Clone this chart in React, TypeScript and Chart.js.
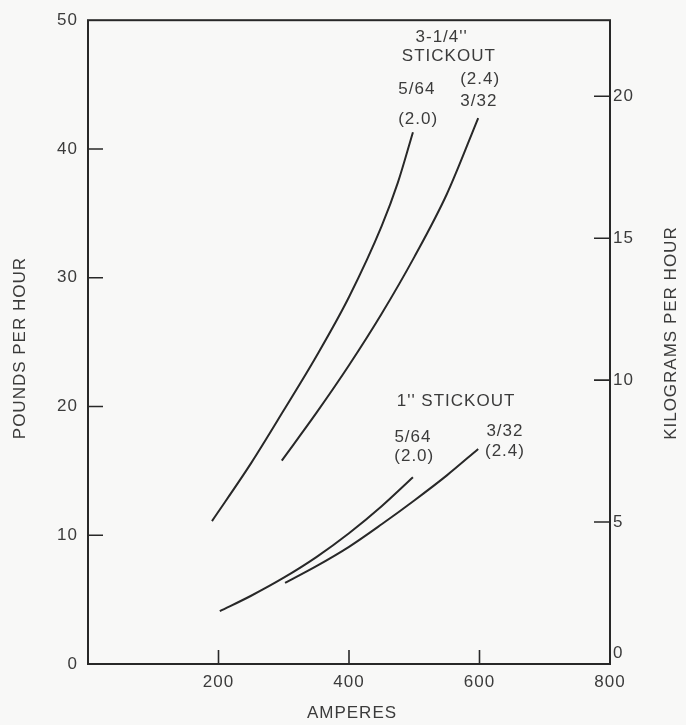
import React, { useEffect, useRef } from 'react';
import { Chart, registerables } from 'chart.js';

Chart.register(...registerables);

// ---- data (amperes vs. pounds per hour) ----
const LB_PER_KG = 2.20462;

// 3-1/4" stickout, 5/64 (2.0)
const ampsLong564 = [190, 250, 300, 350, 400, 450, 475, 498];
const lbLong564 = [11.1, 15.6, 19.7, 23.9, 28.5, 34.0, 37.4, 41.3];

// 3-1/4" stickout, 3/32 (2.4)
const ampsLong332 = [297, 350, 400, 450, 500, 550, 598];
const lbLong332 = [15.8, 19.5, 23.2, 27.2, 31.6, 36.5, 42.4];

// 1" stickout, 5/64 (2.0)
const ampsShort564 = [202, 250, 300, 350, 400, 450, 498];
const lbShort564 = [4.1, 5.3, 6.7, 8.3, 10.15, 12.25, 14.5];

// 1" stickout, 3/32 (2.4)
const ampsShort332 = [302, 350, 400, 450, 500, 550, 598];
const lbShort332 = [6.3, 7.6, 9.1, 10.85, 12.7, 14.65, 16.7];

// ticks
const X_TICKS = [200, 400, 600, 800];
const LB_TICKS = [0, 10, 20, 30, 40, 50];
const KG_TICKS = [0, 5, 10, 15, 20];

// annotation labels (in data coordinates: amperes, pounds per hour)
const NOTE_TEXT = ["3-1/4''", 'STICKOUT', '(2.4)', '3/32', '5/64', '(2.0)', "1'' STICKOUT", '5/64', '(2.0)', '3/32', '(2.4)'];
const NOTE_AMPS = [542, 553, 601, 599, 504, 506, 564, 498, 500, 639, 639];
const NOTE_LB = [48.7, 47.2, 45.4, 43.7, 44.6, 42.3, 20.4, 17.6, 16.1, 18.1, 16.5];

const X_TITLE = 'AMPERES';
const Y_TITLE = 'POUNDS PER HOUR';
const Y2_TITLE = 'KILOGRAMS PER HOUR';

// ---- style ----
const FONT = '"Liberation Sans", Arial, Helvetica, sans-serif';
const TEXT = '#3b3b3b';
const INK = '#282828';
const BG = '#f8f8f7';
const W = 686;
const H = 725;

const zip = (xs: number[], ys: number[]) => xs.map((x, i) => ({ x, y: ys[i] }));

const decor = {
  id: 'decor',
  beforeDraw(chart: any) {
    const ctx = chart.ctx;
    ctx.save();
    ctx.fillStyle = BG;
    ctx.fillRect(0, 0, chart.width, chart.height);
    ctx.restore();
    (ctx as any).letterSpacing = '1px';
  },
  afterDraw(chart: any) {
    const { ctx, chartArea, scales } = chart;
    const { left, right, top, bottom } = chartArea;
    const x = scales.x;
    const y = scales.y;
    const y2 = scales.y2;
    ctx.save();
    // frame
    ctx.strokeStyle = INK;
    ctx.lineWidth = 2;
    ctx.strokeRect(left, top, right - left, bottom - top);
    // inward tick marks
    ctx.lineWidth = 1.6;
    ctx.beginPath();
    X_TICKS.forEach((v) => {
      const px = x.getPixelForValue(v);
      if (px > left + 2 && px < right - 2) {
        ctx.moveTo(px, bottom);
        ctx.lineTo(px, bottom - 14);
      }
    });
    LB_TICKS.forEach((v) => {
      const py = y.getPixelForValue(v);
      if (py > top + 2 && py < bottom - 2) {
        ctx.moveTo(left, py);
        ctx.lineTo(left + 15, py);
      }
    });
    KG_TICKS.forEach((v) => {
      const py = y2.getPixelForValue(v);
      if (py > top + 2 && py < bottom - 2) {
        ctx.moveTo(right, py);
        ctx.lineTo(right - 16, py);
      }
    });
    ctx.stroke();

    // annotations
    ctx.fillStyle = TEXT;
    ctx.font = `17px ${FONT}`;
    (ctx as any).letterSpacing = '1px';
    ctx.textAlign = 'center';
    ctx.textBaseline = 'middle';
    NOTE_TEXT.forEach((t, i) => {
      ctx.fillText(t, x.getPixelForValue(NOTE_AMPS[i]), y.getPixelForValue(NOTE_LB[i]));
    });

    // axis titles
    ctx.fillText(X_TITLE, (left + right) / 2 + 3, 713);
    ctx.save();
    ctx.translate(20, (top + bottom) / 2 + 6);
    ctx.rotate(-Math.PI / 2);
    ctx.fillText(Y_TITLE, 0, 0);
    ctx.restore();
    ctx.save();
    ctx.translate(671, (top + bottom) / 2 - 9);
    ctx.rotate(-Math.PI / 2);
    ctx.fillText(Y2_TITLE, 0, 0);
    ctx.restore();
    ctx.restore();
  },
};

export default function App() {
  const ref = useRef<HTMLCanvasElement | null>(null);

  useEffect(() => {
    if (!ref.current) return;
    const lineStyle = {
      borderColor: INK,
      borderWidth: 2,
      pointRadius: 0,
      fill: false,
      tension: 0.4,
      cubicInterpolationMode: 'monotone' as const,
      yAxisID: 'y',
    };
    const tickFont = { family: FONT, size: 17 };
    const chart = new Chart(ref.current, {
      type: 'line',
      data: {
        datasets: [
          { ...lineStyle, label: '3-1/4" 5/64', data: zip(ampsLong564, lbLong564) },
          { ...lineStyle, label: '3-1/4" 3/32', data: zip(ampsLong332, lbLong332) },
          { ...lineStyle, label: '1" 5/64', data: zip(ampsShort564, lbShort564) },
          { ...lineStyle, label: '1" 3/32', data: zip(ampsShort332, lbShort332) },
        ],
      },
      options: {
        responsive: false,
        animation: false,
        devicePixelRatio: 1,
        layout: { padding: { top: 15, left: 0, right: 0, bottom: 0 } },
        plugins: { legend: { display: false }, tooltip: { enabled: false }, title: { display: false } },
        scales: {
          x: {
            type: 'linear',
            min: 0,
            max: 800,
            grid: { display: false, drawTicks: false },
            border: { display: false },
            afterBuildTicks: (s: any) => {
              s.ticks = X_TICKS.map((v) => ({ value: v }));
            },
            afterFit: (s: any) => {
              s.height = 61;
            },
            ticks: { font: tickFont, color: TEXT, padding: 8, autoSkip: false, maxRotation: 0 },
          },
          y: {
            type: 'linear',
            position: 'left',
            min: 0,
            max: 50,
            grid: { display: false, drawTicks: false },
            border: { display: false },
            afterBuildTicks: (s: any) => {
              s.ticks = LB_TICKS.map((v) => ({ value: v }));
            },
            afterFit: (s: any) => {
              s.width = 88;
            },
            ticks: { font: tickFont, color: TEXT, padding: 10, autoSkip: false },
          },
          y2: {
            type: 'linear',
            position: 'right',
            min: 0,
            max: 50 / LB_PER_KG,
            grid: { display: false, drawTicks: false },
            border: { display: false },
            afterBuildTicks: (s: any) => {
              s.ticks = KG_TICKS.map((v) => ({ value: v }));
            },
            afterFit: (s: any) => {
              s.width = 76;
            },
            ticks: {
              font: tickFont,
              color: TEXT,
              padding: 3,
              autoSkip: false,
              callback: (v: any) => (Number(v) === 0 ? ['0', ''] : String(v)),
            },
          },
        },
      },
      plugins: [decor],
    } as any);
    return () => chart.destroy();
  }, []);

  return (
    <div style={{ position: 'fixed', left: 0, top: 0, width: W, height: H, background: BG }}>
      <canvas ref={ref} width={W} height={H} style={{ width: W, height: H, display: 'block' }} />
    </div>
  );
}
